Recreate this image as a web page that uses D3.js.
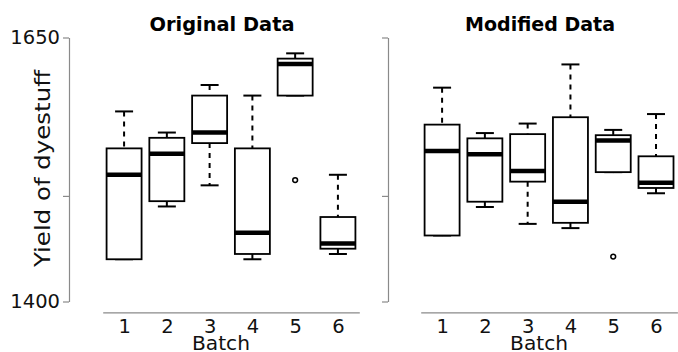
<!DOCTYPE html>
<html>
<head>
<meta charset="utf-8">
<script src="https://cdn.jsdelivr.net/npm/d3@7"></script>
<style>
  body { margin: 0; background: #fff; }
  svg { display: block; font-family: "DejaVu Sans", sans-serif; }
</style>
</head>
<body>
<div id="chart"></div>
<script>
const batches = ['1', '2', '3', '4', '5', '6'];

const originalData = [
  [1545, 1440, 1440, 1520, 1580],
  [1540, 1555, 1490, 1560, 1495],
  [1595, 1550, 1605, 1510, 1560],
  [1445, 1440, 1595, 1465, 1545],
  [1595, 1630, 1515, 1635, 1625],
  [1520, 1455, 1450, 1480, 1445]
];

const modifiedData = [
  [1567.5, 1462.5, 1462.5, 1542.5, 1602.5],
  [1539.5, 1554.5, 1489.5, 1559.5, 1494.5],
  [1558.5, 1513.5, 1568.5, 1473.5, 1523.5],
  [1474.5, 1469.5, 1624.5, 1494.5, 1574.5],
  [1522.5, 1557.5, 1442.5, 1562.5, 1552.5],
  [1577.5, 1512.5, 1507.5, 1537.5, 1502.5]
];

const yTicks = [1400, 1500, 1650];
const yTickLabels = ['1400', '', '1650'];

const width = 678, height = 352;
const axisColor = '#8a8a8a';
const font = '"DejaVu Sans", sans-serif';

const svg = d3.select('#chart').append('svg')
  .attr('width', width)
  .attr('height', height);

const y = d3.scaleLinear().domain([1400, 1650]).range([301.5, 37.5]);

function boxStats(values) {
  const v = values.slice().sort(d3.ascending);
  const q1 = d3.quantile(v, 0.25), med = d3.quantile(v, 0.5), q3 = d3.quantile(v, 0.75);
  const iqr = q3 - q1;
  const inside = v.filter(d => d >= q1 - 1.5 * iqr && d <= q3 + 1.5 * iqr);
  return {
    q1, med, q3,
    lo: d3.min(inside), hi: d3.max(inside),
    out: v.filter(d => d < q1 - 1.5 * iqr || d > q3 + 1.5 * iqr)
  };
}

function drawPanel(opts) {
  const x = d3.scaleLinear().domain([0.5, 6.5]).range(opts.xRange);
  const g = svg.append('g');

  // y axis
  const yAxis = g.append('g')
    .attr('transform', `translate(${opts.yAxisX},0)`)
    .call(d3.axisLeft(y).tickValues(yTicks).tickSize(6).tickSizeOuter(0).tickPadding(3)
      .tickFormat((d, i) => opts.showLabels ? yTickLabels[i] : ''));
  yAxis.attr('font-family', null).attr('font-size', null);
  yAxis.selectAll('.domain, .tick line').attr('stroke', axisColor).attr('stroke-width', 1.2);
  yAxis.selectAll('.tick text').attr('fill', '#111')
    .style('font-family', font).style('font-size', '19.5px');

  // x axis
  const xAxis = g.append('g')
    .attr('transform', 'translate(0,312.3)')
    .call(d3.axisBottom(x).tickValues([1, 2, 3, 4, 5, 6]).tickSize(0).tickPadding(7)
      .tickFormat((d, i) => batches[i]));
  xAxis.attr('font-family', null).attr('font-size', null);
  xAxis.selectAll('.domain').attr('stroke', axisColor).attr('stroke-width', 1.2);
  xAxis.selectAll('.tick text').attr('fill', '#111')
    .style('font-family', font).style('font-size', '19.5px');

  g.append('text')
    .attr('x', (opts.xRange[0] + opts.xRange[1]) / 2 - 10)
    .attr('y', 349.5)
    .attr('text-anchor', 'middle')
    .attr('fill', '#111')
    .attr('textLength', 58)
    .attr('lengthAdjust', 'spacingAndGlyphs')
    .style('font-size', '20px')
    .text('Batch');

  g.append('text')
    .attr('x', opts.titleX)
    .attr('y', 31)
    .attr('text-anchor', 'middle')
    .attr('fill', '#000')
    .attr('textLength', opts.titleLen)
    .attr('lengthAdjust', 'spacingAndGlyphs')
    .style('font-size', '20px')
    .style('font-weight', 'bold')
    .text(opts.title);

  const half = 17.5, cap = 9;
  opts.data.forEach((vals, i) => {
    const s = boxStats(vals);
    const cx = x(i + 1);
    const bg = g.append('g').attr('stroke', '#000').attr('fill', 'none');

    bg.append('line')
      .attr('x1', cx).attr('x2', cx)
      .attr('y1', y(s.hi)).attr('y2', y(s.q3))
      .attr('stroke-width', 2).attr('stroke-dasharray', '5,5');
    bg.append('line')
      .attr('x1', cx).attr('x2', cx)
      .attr('y1', y(s.q1)).attr('y2', y(s.lo))
      .attr('stroke-width', 2).attr('stroke-dasharray', '5,5');
    [s.hi, s.lo].forEach(v => {
      bg.append('line')
        .attr('x1', cx - cap).attr('x2', cx + cap)
        .attr('y1', y(v)).attr('y2', y(v))
        .attr('stroke-width', 2);
    });

    bg.append('rect')
      .attr('x', cx - half).attr('width', half * 2)
      .attr('y', y(s.q3)).attr('height', y(s.q1) - y(s.q3))
      .attr('fill', '#fff')
      .attr('stroke-width', 1.8);

    bg.append('line')
      .attr('x1', cx - half).attr('x2', cx + half)
      .attr('y1', y(s.med)).attr('y2', y(s.med))
      .attr('stroke-width', 4.5);

    s.out.forEach(v => {
      bg.append('circle')
        .attr('cx', cx).attr('cy', y(v)).attr('r', 2.4)
        .attr('stroke-width', 1.5);
    });
  });
}

drawPanel({
  data: originalData, xRange: [102.7, 359.3], yAxisX: 69, showLabels: true,
  title: 'Original Data', titleX: 222, titleLen: 145
});

drawPanel({
  data: modifiedData, xRange: [420.7, 677.4], yAxisX: 388, showLabels: false,
  title: 'Modified Data', titleX: 540, titleLen: 150
});

svg.append('text')
  .attr('transform', 'translate(50,168.5) rotate(-90)')
  .attr('text-anchor', 'middle')
  .attr('fill', '#111')
  .attr('textLength', 197)
  .attr('lengthAdjust', 'spacingAndGlyphs')
  .style('font-size', '21px')
  .text('Yield of dyestuff');
</script>
</body>
</html>
